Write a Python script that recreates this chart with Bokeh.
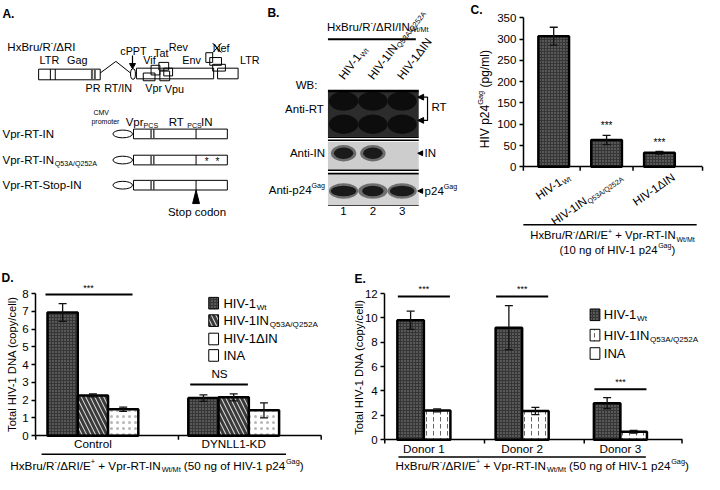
import math
from bokeh.plotting import figure
from bokeh.models import Range1d, LinearAxis, FixedTicker, Whisker, TeeHead, ColumnDataSource
from bokeh.layouts import column, row
from bokeh.embed import file_html
from bokeh.resources import INLINE
from bokeh.core.properties import value

FONT = "Liberation Sans"

# ---------------- data ----------------
# Panel C: p24 release
c_labels = [("HIV-1", "Wt"), ("HIV-1IN", "Q53A/Q252A"), ("HIV-1ΔIN", "")]
c_values = [307, 63, 33]
c_errors = [21, 11, 3]
c_sig = ["", "***", "***"]
c_ticks = [0, 50, 100, 150, 200, 250, 300, 350]

# Panel D: total HIV-1 DNA, control vs DYNLL1-KD
d_groups = ["Control", "DYNLL1-KD"]
d_series = [("HIV-1", "Wt"), ("HIV-1IN", "Q53A/Q252A"), ("HIV-1ΔIN", ""), ("INA", "")]
d_wt = [6.93, 2.12]
d_wt_err = [0.5, 0.18]
d_q53a = [2.27, 2.16]
d_q53a_err = [0.08, 0.2]
d_din = [1.49, 1.43]
d_din_err = [0.12, 0.42]
d_sig = ["***", "NS"]
d_ticks = [0, 1, 2, 3, 4, 5, 6, 7, 8]

# Panel E: total HIV-1 DNA in donors
e_groups = ["Donor 1", "Donor 2", "Donor 3"]
e_series = [("HIV-1", "Wt"), ("HIV-1IN", "Q53A/Q252A"), ("INA", "")]
e_wt = [9.8, 9.2, 3.0]
e_wt_err = [0.75, 1.8, 0.45]
e_q53a = [2.4, 2.35, 0.65]
e_q53a_err = [0.12, 0.3, 0.12]
e_sig = ["***", "***", "***"]
e_ticks = [0, 2, 4, 6, 8, 10, 12]

# Panel B: western blot
b_lanes = ["1", "2", "3"]
b_rows = ["Anti-RT", "Anti-IN", "Anti-p24"]
b_in_present = [1, 1, 0]

# Panel A: constructs
a_constructs = [("Vpr-RT-IN", ""), ("Vpr-RT-IN", "Q53A/Q252A"), ("Vpr-RT-Stop-IN", "")]

# shared caption pieces
CAP1 = [("HxBru/R", "n"), ("-", "sup"), ("/ΔRI/E", "n"), ("+", "sup"), (" + Vpr-RT-IN", "n"), ("Wt/Mt", "sub")]
CAP50 = CAP1 + [(" (50 ng of HIV-1 p24", "n"), ("Gag", "sup"), (")", "n")]

# ---------------- layout sizes ----------------
W_A, W_B, W_C, H_TOP = 264, 205, 235, 263
W_D, W_E, H_BOT = 352, 352, 211

AW = {}
AW.update(dict(zip(" !\"#$%&'()*+,-./", [278, 278, 355, 556, 556, 889, 667, 191, 333, 333, 389, 584, 278, 333, 278, 278])))
AW.update({d: 556 for d in "0123456789"})
AW.update(dict(zip(":;<=>?@", [278, 278, 584, 584, 584, 556, 1015])))
AW.update(dict(zip("ABCDEFGHIJKLMNOPQRSTUVWXYZ", [667, 667, 722, 722, 667, 611, 778, 722, 278, 500, 667, 556, 833, 722, 778, 667, 778, 722, 667, 611, 722, 667, 944, 667, 667, 611])))
AW.update(dict(zip("abcdefghijklmnopqrstuvwxyz", [556, 556, 500, 556, 556, 278, 556, 556, 222, 222, 500, 222, 833, 556, 556, 556, 556, 333, 500, 278, 556, 500, 722, 500, 500, 500])))
AW.update({"Δ": 668})


def tw(s, size):
    return sum(AW.get(ch, 556) for ch in s) * size / 1000.0


def make_fig(w, h, xr, yr):
    p = figure(width=w, height=h, x_range=Range1d(*xr), y_range=Range1d(*yr),
               x_axis_type=None, y_axis_type=None, toolbar_location=None,
               output_backend="svg", outline_line_color=None)
    p.min_border = 0
    p.min_border_left = p.min_border_right = p.min_border_top = p.min_border_bottom = 0
    p.background_fill_color = "white"
    p.border_fill_color = "white"
    return p


def rich(p, x, y, segs, size=12, angle=0.0, align="left", color="black", bold=False):
    sx = p.width / (p.x_range.end - p.x_range.start)
    sy = p.height / (p.y_range.end - p.y_range.start)
    items = []
    for t, k in segs:
        if not t:
            continue
        s = size if k == "n" else size * 0.62
        items.append((t, k, s, tw(t, s)))
    W = sum(i[3] for i in items)
    ca, sa = math.cos(angle), math.sin(angle)
    pos = {"left": 0.0, "center": -W / 2.0, "right": -W}[align]
    for t, k, s, w in items:
        lead = len(t) - len(t.lstrip(" "))
        content = t.strip(" ")
        shift = 0.0 if k == "n" else (-0.32 * size if k == "sub" else 0.36 * size)
        along = pos + tw(" " * lead, s)
        dx = along * ca - shift * sa
        dy = along * sa + shift * ca
        if content:
            p.text(x=[x + dx / sx], y=[y + dy / sy], text=[content], angle=angle,
                   text_align="left", text_baseline="middle",
                   text_font_size=f"{s:.1f}px", text_font=value(FONT), text_color=color,
                   text_font_style="bold" if bold else "normal")
        pos += w


def style_axis(ax, size="11.5px"):
    ax.axis_line_width = 1.5
    ax.axis_line_color = "black"
    ax.major_tick_line_width = 1.5
    ax.major_tick_line_color = "black"
    ax.major_tick_out = 4
    ax.major_tick_in = 0
    ax.minor_tick_line_color = None
    ax.major_label_text_font = FONT
    ax.major_label_text_font_size = size
    ax.major_label_text_color = "black"
    ax.major_label_standoff = 3


def base_axis(p, x0, x1, ticks, tick_len):
    xa = LinearAxis(fixed_location=0, ticker=FixedTicker(ticks=[]), bounds=(x0, x1))
    style_axis(xa)
    p.add_layout(xa, "below")
    p.segment(x0=ticks, y0=[0] * len(ticks), x1=ticks, y1=[-tick_len] * len(ticks),
              line_color="black", line_width=1.5)


def errbars(p, xs, vals, errs):
    src = ColumnDataSource(dict(x=xs, upper=[v + e for v, e in zip(vals, errs)],
                                lower=[v - e for v, e in zip(vals, errs)]))
    w = Whisker(source=src, base="x", upper="upper", lower="lower", line_width=1.3,
                line_color="#111111",
                upper_head=TeeHead(size=8, line_width=1.3, line_color="#111111"),
                lower_head=TeeHead(size=8, line_width=1.3, line_color="#111111"),
                level="annotation")
    p.add_layout(w)


WT = dict(fill_color="#363636", hatch_pattern="dot", hatch_color="#8c8c8c", hatch_scale=3, hatch_weight=1)
QS = dict(fill_color="#d6d6d6", hatch_pattern="left_diagonal_line", hatch_color="#3a3a3a", hatch_scale=9, hatch_weight=3)
DIN = dict(fill_color="white", hatch_pattern="dot", hatch_color="#9a9a9a", hatch_scale=6, hatch_weight=0.6, hatch_alpha=0.7)
EQ = dict(fill_color="white", hatch_pattern="vertical_dash", hatch_color="#666666", hatch_scale=7, hatch_weight=1)
BLANK = dict(fill_color="white")
BAR_LINE = dict(line_color="black", line_width=2.5)

# ================= Panel A =================
GF = 10.8
pA = make_fig(W_A, H_TOP, (0, 270), (272, 0))
rich(pA, 2, 14, [("A.", "n")], 12, bold=True)
rich(pA, 7, 48, [("HxBru/R", "n"), ("-", "sup"), ("/ΔRI", "n")], 11.5)
rich(pA, 40, 62, [("LTR", "n")], GF)
rich(pA, 68, 62, [("Gag", "n")], GF)
# genome
pA.quad(left=[39, 139, 222], right=[102, 218, 243], top=[71, 70, 70], bottom=[82, 81, 81],
        fill_color="white", line_color="black", line_width=1)
pA.segment(x0=[51, 56], y0=[71, 71], x1=[51, 56], y1=[82, 82], line_color="black", line_width=1)
pA.segment(x0=[93.5, 96.5], y0=[71, 71], x1=[93.5, 96.5], y1=[82, 82], line_color="#555555", line_width=2)
pA.line([102, 118, 133], [75, 63, 75], line_color="black", line_width=1)
pA.ellipse(x=[135.5], y=[76], width=5, height=11, fill_color="white", line_color="black")
pA.line([135, 135], [57, 66], line_color="black", line_width=1.2)
pA.scatter(x=[135], y=[67], marker="inverted_triangle", size=6, color="black")
pA.quad(left=[146, 154, 162, 163, 167, 210, 214, 217], right=[158, 163, 172, 173, 176, 217, 226, 230],
        top=[75, 67, 64, 73, 70, 54, 59, 66], bottom=[83, 77, 72, 83, 78, 64, 67, 73],
        fill_alpha=0, line_color="black", line_width=1)
rich(pA, 136, 52, [("cPPT", "n")], GF, align="center")
rich(pA, 146, 62, [("Vif", "n")], GF)
rich(pA, 157, 54, [("Tat", "n")], GF)
rich(pA, 172, 48, [("Rev", "n")], GF)
rich(pA, 186, 62, [("Env", "n")], GF)
rich(pA, 217, 49, [("Nef", "n")], GF)
pA.multi_line(xs=[[217, 226], [217, 226]], ys=[[44, 54], [54, 44]], line_color="black", line_width=1)
rich(pA, 245, 62, [("LTR", "n")], GF)
rich(pA, 87, 90, [("PR", "n")], GF)
rich(pA, 106, 90, [("RT/IN", "n")], GF)
rich(pA, 148, 91, [("Vpr", "n")], GF)
rich(pA, 168, 92, [("Vpu", "n")], GF)
# constructs
rich(pA, 95, 116, [("CMV", "n")], 7)
rich(pA, 93, 125, [("promoter", "n")], 7)
rich(pA, 128, 126, [("Vpr", "n"), ("PCS", "sub")], 11.5)
rich(pA, 172, 126, [("RT", "n")], 11.5)
rich(pA, 191, 129, [("PCS", "n")], 7)
rich(pA, 205, 126, [("IN", "n")], 11.5)
row_y = [138, 165, 191]
for (name, sub), yy in zip(a_constructs, row_y):
    rich(pA, 2, yy, [(name, "n"), (sub, "sub")], 11.5)
pA.ellipse(x=[125] * 3, y=row_y, width=20, height=8, fill_color="white", line_color="black")
pA.quad(left=[136] * 3, right=[232] * 3, top=[y - 5 for y in row_y], bottom=[y + 5 for y in row_y],
        fill_color="white", line_color="black", line_width=1)
for xl, col, lw in [(154, "#444444", 1.5), (156.8, "#444444", 1.5), (200, "black", 1)]:
    pA.segment(x0=[xl] * 3, y0=[y - 5 for y in row_y], x1=[xl] * 3, y1=[y + 5 for y in row_y],
               line_color=col, line_width=lw)
pA.text(x=[211, 222], y=[167, 167], text=["*", "*"], text_align="center", text_baseline="middle",
        text_font_size="10px", text_font=value(FONT))
pA.patch(x=[196.5, 203.5, 200], y=[210, 210, 196], color="black")
rich(pA, 201, 219, [("Stop codon", "n")], 11.5, align="center")

# ================= Panel B =================
pB = make_fig(W_B, H_TOP, (270, 480), (272, 0))
rich(pB, 273, 13, [("B.", "n")], 12, bold=True)
rich(pB, 386, 27, [("HxBru/R", "n"), ("-", "sup"), ("/ΔRI/IN", "n"), ("Wt/Mt", "sub")], 11.5, align="center")
pB.line([335, 425], [40, 40], line_color="black", line_width=2)
lane_x = [351, 381, 411]
for (main, sub), lx in zip(c_labels, lane_x):
    rich(pB, lx - 3, 80, [(main, "n"), (sub, "sub")], 11.7, angle=0.92, align="left")
# blot panels
pB.quad(left=[335], right=[428], top=[93], bottom=[141], fill_color="#2c2c2c", line_color=None)
pB.ellipse(x=lane_x * 2, y=[104] * 3 + [128] * 3, width=[30] * 6, height=[20] * 6,
           fill_color="#0a0a0a", fill_alpha=0.9, line_color=None)
pB.line([335, 428], [93.5, 93.5], line_color="black", line_width=2.5)
pB.quad(left=[335, 335], right=[428, 428], top=[146, 180], bottom=[175, 212],
        fill_color=["#cdcdcd", "#d3d3d3"], line_color=None)
for yy in [141.5, 144.5, 175.5, 179]:
    pB.line([335, 428], [yy, yy], line_color="black", line_width=1.6)
pB.line([335, 428], [212, 212], line_color="#444444", line_width=1)
in_x = [lx for lx, pr in zip(lane_x, b_in_present) if pr]
pB.ellipse(x=in_x, y=[158] * len(in_x), width=26, height=17, fill_color="#1e1e1e", fill_alpha=0.55, line_color=None)
pB.ellipse(x=in_x, y=[158] * len(in_x), width=20, height=12, fill_color="#1a1a1a", line_color=None)
pB.ellipse(x=lane_x, y=[197] * 3, width=30, height=16, fill_color="#1e1e1e", fill_alpha=0.55, line_color=None)
pB.ellipse(x=lane_x, y=[197] * 3, width=[26, 22, 25], height=11, fill_color="#1a1a1a", line_color=None)
rich(pB, 302, 87, [("WB:", "n")], 11.5)
rich(pB, 331, 112, [(b_rows[0], "n")], 11.5, align="right")
rich(pB, 332, 158, [(b_rows[1], "n")], 11.5, align="right")
rich(pB, 332, 196, [(b_rows[2], "n"), ("Gag", "sup")], 11.5, align="right")
pB.patch(x=[427, 433, 433], y=[100, 97, 103], color="black")
pB.patch(x=[427, 433, 433], y=[124, 121, 127], color="black")
pB.line([433, 437, 437, 433], [100, 100, 124, 124], line_color="black", line_width=1.2)
rich(pB, 441, 110, [("RT", "n")], 11.5)
pB.patch(x=[427, 432, 432], y=[158, 155.5, 160.5], color="black")
rich(pB, 434, 158, [("IN", "n")], 11.5)
pB.patch(x=[427, 432, 432], y=[197, 194.5, 199.5], color="black")
rich(pB, 434, 197, [("p24", "n"), ("Gag", "sup")], 11.5)
pB.text(x=lane_x, y=[218] * 3, text=b_lanes, text_align="center", text_baseline="middle",
        text_font_size="11.5px", text_font=value(FONT))

# ================= Panel C =================
CX = lambda px: 1 + (px - 566) / 54.0
CY = lambda py: (172 - py) / 0.44
pC = make_fig(W_C, H_TOP, (CX(480), CX(720)), (CY(272), CY(0)))
c_x = [i + 1 for i in range(len(c_values))]
pC.vbar(x=c_x, top=c_values, width=0.58, **WT, **BAR_LINE)
errbars(pC, c_x, c_values, c_errors)
sig_pts = [(xx, v + e + 22, s) for xx, v, e, s in zip(c_x, c_values, c_errors, c_sig) if s]
pC.text(x=[t[0] for t in sig_pts], y=[t[1] for t in sig_pts], text=[t[2] for t in sig_pts],
        text_align="center", text_baseline="middle", text_font_size="10px", text_font=value(FONT))
ya = LinearAxis(fixed_location=CX(535), ticker=FixedTicker(ticks=c_ticks), bounds=(0, 350))
style_axis(ya)
pC.add_layout(ya, "left")
base_axis(pC, CX(535), CX(718), [CX(535), 1.5, 2.5, CX(718)], 4 / 0.44)
for (main, sub), xx in zip(c_labels, c_x):
    rich(pC, xx + 15 / 54.0, CY(181), [(main, "n"), (sub, "sub")], 11.5, angle=0.6, align="right")
pC.line([CX(535), CX(712)], [CY(232)] * 2, line_color="black", line_width=1.5)
rich(pC, CX(626), CY(243), CAP1, 11.3, align="center")
rich(pC, CX(631), CY(258), [("(10 ng of HIV-1 p24", "n"), ("Gag", "sup"), (")", "n")], 11.3, align="center")
rich(pC, CX(496), CY(102), [("HIV p24", "n"), ("Gag", "sup"), (" (pg/ml)", "n")], 12, angle=math.pi / 2, align="center")
rich(pC, CX(481), CY(10), [("C.", "n")], 12, bold=True)

# ================= Panel D =================
DX = lambda px: 1 + (px - 94.5) / 144.0
DY = lambda py: (450 - py) / 18.375
pD = make_fig(W_D, H_BOT, (DX(0), DX(360)), (DY(490), DY(272)))
d_x = [i + 1 for i in range(len(d_groups))]
bw = 0.215
for off, vals, errs, sty in [(-bw, d_wt, d_wt_err, WT), (0, d_q53a, d_q53a_err, QS), (bw, d_din, d_din_err, DIN)]:
    xs = [g + off for g in d_x]
    pD.vbar(x=xs, top=vals, width=bw, **sty, **BAR_LINE)
    errbars(pD, xs, vals, errs)
ya = LinearAxis(fixed_location=DX(36), ticker=FixedTicker(ticks=d_ticks), bounds=(0, 8))
style_axis(ya)
pD.add_layout(ya, "left")
base_axis(pD, DX(36), DX(328), [DX(36), DX(182), DX(328)], 4 / 18.375)
pD.text(x=d_x, y=[DY(458)] * 2, text=d_groups, text_align="center", text_baseline="middle",
        text_font_size="11.7px", text_font=value(FONT))
# significance
pD.segment(x0=[DX(46), DX(194)], y0=[DY(304), DY(397)], x1=[DX(135), DX(253)], y1=[DY(304), DY(397)],
           line_color="black", line_width=2)
pD.text(x=[DX(90), DX(224)], y=[DY(297), DY(386)], text=d_sig, text_align="center", text_baseline="middle",
        text_font_size=["9px", "11.7px"], text_font=value(FONT))
# legend
leg_y = [313, 331, 350, 367]
for (main, sub), yy, sty in zip(d_series, leg_y, [WT, QS, BLANK, BLANK]):
    pD.rect(x=[DX(218)], y=[DY(yy)], width=10 / 144.0, height=12 / 18.375, line_color="black", line_width=1, **sty)
    rich(pD, DX(228), DY(yy), [(main, "n"), (sub, "sub")], 13)
pD.line([DX(42), DX(292)], [DY(469)] * 2, line_color="black", line_width=1.5)
rich(pD, DX(160), DY(481), CAP50, 11.7, align="center")
rich(pD, DX(12), DY(375), [("Total HIV-1 DNA (copy/cell)", "n")], 11.2, angle=math.pi / 2, align="center")
rich(pD, DX(1), DY(287), [("D.", "n")], 12, bold=True)

# ================= Panel E =================
EX = lambda px: 1 + (px - 433) / 100.5
EY = lambda py: (454 - py) / 12.58
pE = make_fig(W_E, H_BOT, (EX(360), EX(720)), (EY(490), EY(272)))
e_x = [i + 1 for i in range(len(e_groups))]
ebw = 0.27
for off, vals, errs, sty in [(-ebw / 2, e_wt, e_wt_err, WT), (ebw / 2, e_q53a, e_q53a_err, EQ)]:
    xs = [g + off for g in e_x]
    pE.vbar(x=xs, top=vals, width=ebw, **sty, **BAR_LINE)
    errbars(pE, xs, vals, errs)
ya = LinearAxis(fixed_location=EX(393), ticker=FixedTicker(ticks=e_ticks), bounds=(0, 12))
style_axis(ya)
pE.add_layout(ya, "left")
base_axis(pE, EX(393), EX(697), [EX(393), EX(495), EX(597), EX(697)], 4 / 12.58)
pE.text(x=e_x, y=[EY(463)] * 3, text=e_groups, text_align="center", text_baseline="middle",
        text_font_size="11.7px", text_font=value(FONT))
sig_y = [EY(306), EY(306), EY(402)]
pE.segment(x0=[g - 0.265 for g in e_x], y0=sig_y, x1=[g + 0.265 for g in e_x], y1=sig_y,
           line_color="black", line_width=2)
pE.text(x=e_x, y=[s + 8 / 12.58 for s in sig_y], text=e_sig, text_align="center", text_baseline="middle",
        text_font_size="9px", text_font=value(FONT))
leg_y = [325, 346, 365]
for (main, sub), yy, sty in zip(e_series, leg_y, [WT, EQ, BLANK]):
    pE.rect(x=[EX(608)], y=[EY(yy)], width=10 / 100.5, height=12 / 12.58, line_color="black", line_width=1, **sty)
    rich(pE, EX(617), EY(yy), [(main, "n"), (sub, "sub")], 13)
pE.line([EX(407), EX(660)], [EY(472)] * 2, line_color="black", line_width=1.5)
rich(pE, EX(554), EY(481), CAP50, 11.7, align="center")
rich(pE, EX(367), EY(378), [("Total HIV-1 DNA (copy/cell)", "n")], 11.2, angle=math.pi / 2, align="center")
rich(pE, EX(362), EY(288), [("E.", "n")], 12, bold=True)

layout = column(row(pA, pB, pC), row(pD, pE))
open("out.html", "w").write(file_html(layout, INLINE))
